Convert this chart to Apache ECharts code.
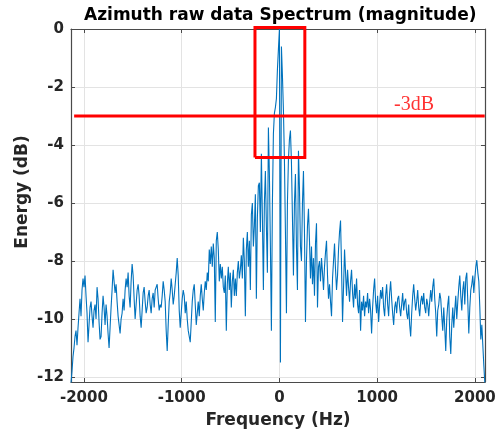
<!DOCTYPE html>
<html><head><meta charset="utf-8">
<script src="https://cdn.jsdelivr.net/npm/echarts@6/dist/echarts.min.js"></script>
<style>html,body{margin:0;padding:0;background:#fff}#c{width:502px;height:434px}</style>
</head><body><div id="c"></div>
<script>
// ---- data ----
const freqStart = -2132;   // Hz, first sample
const freqStep = 10.25;    // Hz between samples
const energy = [
 -12.2,-11.8,-11.3,-11.0,-10.6,-10.4,-10.9,-10.3,-9.8,-9.3,
 -9.9,-9.0,-8.6,-8.9,-8.5,-9.2,-9.8,-10.8,-10.2,-9.6,
 -9.4,-9.9,-10.3,-9.7,-9.5,-10.0,-8.9,-9.3,-10.1,-10.7,
 -10.6,-9.8,-9.2,-9.6,-10.2,-9.5,-9.9,-10.5,-11.0,-10.3,
 -9.6,-9.0,-8.3,-8.7,-9.1,-8.8,-9.4,-9.9,-10.2,-10.5,
 -10.0,-9.8,-9.3,-9.7,-9.0,-8.6,-8.9,-8.4,-9.2,-9.6,
 -8.7,-8.1,-8.5,-9.3,-10.0,-9.5,-9.0,-8.8,-9.2,-9.9,
 -10.3,-9.7,-9.1,-8.9,-9.4,-9.8,-9.6,-9.2,-9.0,-9.5,
 -9.8,-9.3,-9.1,-9.6,-9.0,-8.9,-8.8,-9.3,-9.7,-9.5,
 -9.6,-9.2,-8.7,-9.0,-9.4,-10.4,-11.1,-10.2,-9.4,-9.1,
 -8.6,-9.0,-9.5,-9.2,-8.8,-8.4,-7.9,-8.5,-9.7,-10.3,
 -9.8,-9.3,-9.0,-9.2,-9.8,-9.4,-10.0,-10.4,-10.6,-10.8,
 -10.1,-9.4,-9.0,-8.8,-9.5,-10.2,-9.8,-9.4,-9.9,-9.2,
 -8.8,-9.3,-9.7,-9.1,-8.7,-9.0,-8.4,-8.7,-7.6,-8.1,
 -7.5,-8.2,-7.4,-7.9,-10.1,-7.3,-7.0,-7.6,-8.7,-8.1,
 -8.6,-8.2,-8.9,-9.1,-8.5,-10.4,-8.8,-8.2,-9.0,-8.4,
 -9.6,-8.7,-8.3,-9.2,-8.6,-9.2,-8.4,-8.0,-8.6,-8.3,
 -7.8,-8.6,-7.2,-8.0,-9.9,-7.6,-7.0,-8.2,-7.3,-9.0,
 -6.4,-6.0,-7.5,-6.8,-5.7,-9.3,-6.5,-5.4,-5.3,-7.0,
 -4.3,-6.5,-9.0,-6.0,-4.9,-6.8,-8.4,-3.4,-5.0,-7.5,
 -10.4,-6.0,-3.6,-2.9,-2.7,-2.4,-1.4,-0.7,
 0.0,
 -11.5,-0.6,-1.6,-2.8,-4.5,-7.0,-9.8,-6.0,-4.5,-3.8,
 -3.5,-4.6,-6.5,-8.5,-6.0,-5.0,-7.5,-9.0,-4.2,-5.5,
 -7.5,-8.0,-6.0,-4.9,-7.0,-10.1,-8.0,-6.8,-6.2,-7.3,
 -8.6,-7.5,-8.8,-7.9,-9.2,-7.4,-6.7,-9.6,-8.2,-8.0,
 -8.7,-7.9,-8.4,-9.0,-8.2,-7.7,-7.3,-8.5,-9.3,-8.8,
 -9.4,-9.9,-8.6,-8.0,-7.4,-8.3,-9.0,-8.5,-7.6,-7.0,
 -6.6,-8.2,-10.1,-8.9,-7.6,-8.4,-9.2,-8.3,-8.9,-9.4,
 -8.7,-8.3,-9.1,-9.6,-8.8,-9.3,-8.6,-9.5,-9.8,-9.0,
 -10.4,-9.4,-9.7,-9.2,-9.9,-9.4,-9.6,-9.1,-9.8,-9.3,
 -9.7,-10.5,-9.6,-9.0,-8.6,-9.4,-9.8,-9.2,-10.1,-9.5,
 -9.0,-9.3,-8.9,-9.6,-9.9,-9.2,-8.8,-9.5,-9.9,-9.1,
 -8.7,-9.3,-9.8,-10.2,-9.6,-9.4,-9.8,-9.3,-9.2,-9.6,
 -9.9,-9.5,-9.1,-9.7,-9.4,-9.3,-9.8,-10.0,-9.5,-10.2,
 -10.6,-9.8,-9.2,-8.8,-9.3,-9.7,-9.4,-9.0,-9.6,-9.9,
 -9.4,-9.2,-9.5,-9.1,-9.6,-9.8,-9.3,-9.5,-9.9,-9.4,
 -9.0,-9.4,-8.9,-8.6,-9.3,-9.8,-10.6,-9.7,-9.5,-9.1,
 -9.3,-9.9,-10.4,-9.6,-10.3,-11.1,-10.0,-9.5,-9.2,-10.6,
 -11.2,-10.2,-9.6,-10.3,-9.7,-9.2,-10.0,-9.4,-8.9,-8.5,
 -9.2,-9.7,-9.0,-8.7,-9.5,-8.6,-8.4,-9.4,-10.5,-9.6,
 -9.0,-8.8,-8.5,-9.1,-8.6,-8.2,-7.97,-8.4,-8.7,-9.6,
 -10.7,-10.2,-10.9,-11.6,-12.2
];
const xTicks = [-2000, -1000, 0, 1000, 2000];
const yTicks = [-12, -10, -8, -6, -4, -2, 0];
const xRange = [-2132, 2103];
const yRange = [-12.17, 0];
const thresholdDb = -3;
const thresholdSpan = [-2100, 2100];
const boxFreq = [-250, 260];
const boxDb = [-4.43, 0.05];
const thresholdLabel = '-3dB';
const thresholdLabelAt = [1377, -2.6];

const titleText = 'Azimuth raw data Spectrum (magnitude)';
const xName = 'Frequency (Hz)';
const yName = 'Energy (dB)';

// ---- chart ----
const spectrum = energy.map((v, i) => [freqStart + i * freqStep, v]);
const boxPath = [
  [boxFreq[0], boxDb[0]], [boxFreq[0], boxDb[1]], [boxFreq[1], boxDb[1]],
  [boxFreq[1], boxDb[0]], [boxFreq[0], boxDb[0]]
];
const FONT = 'DejaVu Sans';
const TXT = '#262626';
const AXC = '#4a4a4a';
const GRIDC = '#e3e3e3';
const plain = v => String(v);

function xAx(pos, main) {
  return {
    type: 'value', position: pos, min: xRange[0], max: xRange[1],
    axisLine: { show: true, onZero: false, lineStyle: { color: AXC, width: 1.2 } },
    axisTick: { show: true, inside: true, length: 4, customValues: xTicks, lineStyle: { color: AXC } },
    axisLabel: { show: main, customValues: xTicks, formatter: plain, margin: 9, color: TXT,
      fontFamily: FONT, fontWeight: 'bold', fontSize: 15 },
    splitLine: { show: main, lineStyle: { color: GRIDC, width: 1 } },
    name: main ? xName : '', nameLocation: 'middle', nameGap: 30,
    nameTextStyle: { color: TXT, fontFamily: FONT, fontWeight: 'bold', fontSize: 17 }
  };
}
function yAx(pos, main) {
  return {
    type: 'value', position: pos, min: yRange[0], max: yRange[1],
    axisLine: { show: true, onZero: false, lineStyle: { color: AXC, width: 1.2 } },
    axisTick: { show: true, inside: true, length: 4, customValues: yTicks, lineStyle: { color: AXC } },
    axisLabel: { show: main, customValues: yTicks, formatter: plain, margin: 7, color: TXT,
      fontFamily: FONT, fontWeight: 'bold', fontSize: 15 },
    splitLine: { show: main, lineStyle: { color: GRIDC, width: 1 } }
  };
}

const chart = echarts.init(document.getElementById('c'), null, { renderer: 'canvas' });
chart.setOption({
  animation: false,
  backgroundColor: '#fff',
  title: {
    text: titleText, left: 79, top: 2,
    textStyle: { fontFamily: FONT, fontWeight: 'bold', fontSize: 17, color: '#000' }
  },
  grid: { left: 71, right: 17, top: 29, bottom: 52, containLabel: false },
  xAxis: [xAx('bottom', true), xAx('top', false)],
  yAxis: [yAx('left', true), yAx('right', false)],
  graphic: [{
    type: 'text', x: 23, y: 192, rotation: Math.PI / 2,
    style: { text: yName, fill: TXT, font: 'bold 17px "DejaVu Sans"',
      align: 'center', verticalAlign: 'middle' }
  }],
  series: [
    { type: 'line', data: spectrum, showSymbol: false, symbol: 'none',
      lineStyle: { color: '#0072BD', width: 1.1 }, z: 2 },
    { type: 'line', data: [[thresholdSpan[0], thresholdDb], [thresholdSpan[1], thresholdDb]],
      symbol: 'none', lineStyle: { color: '#ff0000', width: 3 }, z: 3 },
    { type: 'line', data: boxPath, symbol: 'none', clip: false,
      lineStyle: { color: '#ff0000', width: 3, join: 'miter' }, z: 3 },
    { type: 'scatter', data: [thresholdLabelAt], symbolSize: 2, z: 4, silent: true,
      itemStyle: { color: 'rgba(0,0,0,0)' },
      label: { show: true, position: 'inside', formatter: thresholdLabel,
        color: '#ff0000', fontFamily: 'Liberation Serif', fontSize: 20 } }
  ]
});
</script></body></html>
